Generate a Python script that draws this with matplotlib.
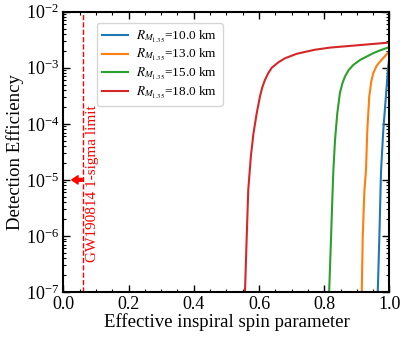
import numpy as np
import matplotlib
matplotlib.use("Agg")
import matplotlib.pyplot as plt
from matplotlib.ticker import MultipleLocator, LogLocator, NullFormatter

plt.rcParams['font.family'] = ['Liberation Serif', 'DejaVu Serif']
plt.rcParams['mathtext.fontset'] = 'stix'

labels = [r"$R_{M_{1.35}}$=10.0 km", r"$R_{M_{1.35}}$=13.0 km",
          r"$R_{M_{1.35}}$=15.0 km", r"$R_{M_{1.35}}$=18.0 km"]
colors = ['#1f77b4', '#ff7f0e', '#2ca02c', '#d62728']

# (chi_eff, log10 efficiency)
x10 = [0.964, 0.969, 0.974, 0.981, 0.989, 0.996, 1.000]
y10 = [-7.0, -6.0, -4.85, -4.11, -3.51, -2.98, -2.80]
x13 = [0.915, 0.918, 0.923, 0.928, 0.932, 0.938, 0.944, 0.950, 0.960, 0.971, 0.985, 1.000]
y13 = [-7.0, -6.0, -5.2, -4.82, -4.11, -3.51, -3.25, -3.10, -2.97, -2.89, -2.80, -2.70]
x15 = [0.815, 0.818, 0.821, 0.825, 0.828, 0.833, 0.840, 0.848, 0.856, 0.864, 0.875, 0.889, 0.910, 0.930, 0.950, 0.971, 1.000]
y15 = [-7.0, -6.5, -6.0, -5.3, -4.82, -4.29, -3.81, -3.45, -3.27, -3.15, -3.04, -2.95, -2.86, -2.80, -2.74, -2.69, -2.63]
x18 = [0.557, 0.562, 0.567, 0.575, 0.583, 0.593, 0.603, 0.610, 0.618, 0.628, 0.639, 0.660, 0.680, 0.716, 0.770, 0.818, 0.900, 1.000]
y18 = [-7.0, -6.07, -5.18, -4.58, -4.17, -3.81, -3.51, -3.35, -3.22, -3.10, -3.00, -2.90, -2.83, -2.75, -2.68, -2.64, -2.60, -2.55]

xs = [x10, x13, x15, x18]
ys = [y10, y13, y15, y18]

limit_x = 0.06
limit_text = "GW190814 1-sigma limit"

fig = plt.figure(figsize=(4.07, 3.39), dpi=100)
ax = fig.add_axes([0.1555, 0.1386, 0.8015, 0.8269])

for x, y, c, l in zip(xs, ys, colors, labels):
    ax.plot(x, 10 ** np.array(y), color=c, lw=1.5, label=l)

ax.axvline(limit_x, color='red', ls='--', lw=1.0)
ax.annotate('', xy=(0.026, 1e-5), xytext=(0.058, 1e-5),
            arrowprops=dict(color='red', width=2.0, headwidth=6, headlength=4.5, shrink=0))
ax.text(0.089, 10 ** -5.06, limit_text, rotation=90, color='red', fontsize=11,
        ha='center', va='center')

ax.set_yscale('log')
ax.set_xlim(0, 1)
ax.set_ylim(1e-7, 1e-2)
ax.xaxis.set_major_locator(MultipleLocator(0.2))
ax.xaxis.set_minor_locator(MultipleLocator(0.05))
ax.yaxis.set_major_locator(LogLocator(base=10, numticks=10))
ax.yaxis.set_minor_locator(LogLocator(base=10, subs=np.arange(2, 10), numticks=20))
ax.yaxis.set_minor_formatter(NullFormatter())
ax.tick_params(which='both', direction='in', top=True, right=True, labelsize=13)
ax.tick_params(which='major', length=5, width=1.0, pad=3)
ax.tick_params(which='minor', length=2.5, width=0.8)
for s in ax.spines.values():
    s.set_linewidth(1.5)

ax.set_xlabel("Effective inspiral spin parameter", fontsize=13.5, labelpad=0)
ax.set_ylabel("Detection Efficiency", fontsize=13.5, labelpad=1)

ax.legend(loc='upper left', bbox_to_anchor=(0.102, 0.959), borderaxespad=0,
          fontsize=9.5, handlelength=2.0, labelspacing=0.2, handletextpad=0.6)

fig.savefig("out.png", dpi=100)
